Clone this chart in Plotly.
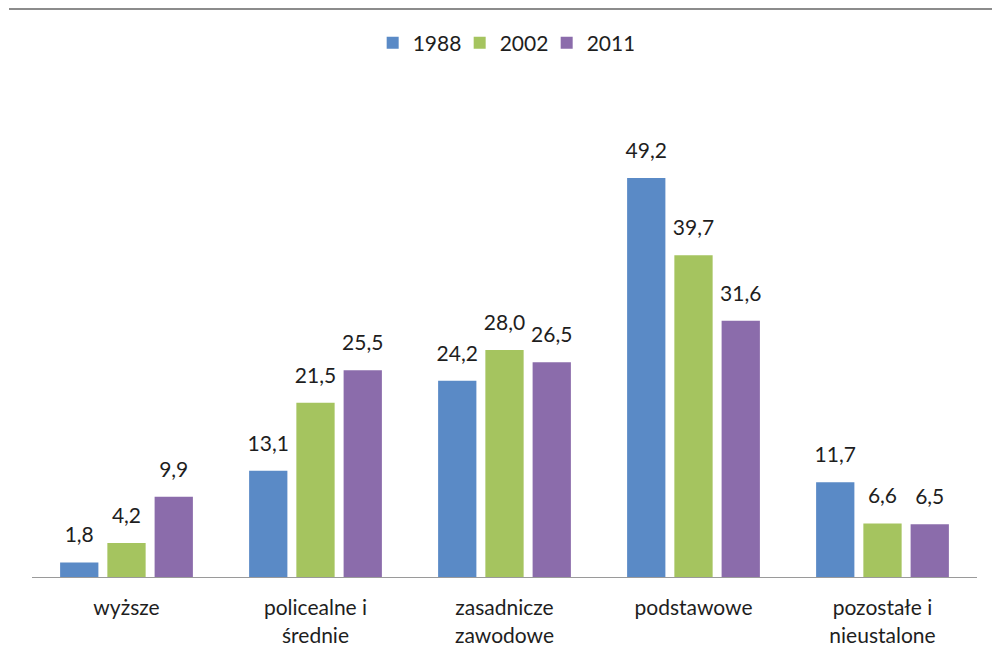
import plotly.graph_objects as go

categories = ["wyższe", "policealne i<br>średnie", "zasadnicze<br>zawodowe", "podstawowe", "pozostałe i<br>nieustalone"]
series_names = ["1988", "2002", "2011"]
values_1988 = [1.8, 13.1, 24.2, 49.2, 11.7]
values_2002 = [4.2, 21.5, 28.0, 39.7, 6.6]
values_2011 = [9.9, 25.5, 26.5, 31.6, 6.5]
colors = ["#5A8AC6", "#A5C45F", "#8B6CAB"]

FONT = "Lato, Open Sans, sans-serif"
TXT = "#1e1e1e"
fig = go.Figure()
for i, (name, vals, col) in enumerate(zip(series_names, [values_1988, values_2002, values_2011], colors)):
    fig.add_trace(go.Bar(
        name=name, x=categories, y=vals, offsetgroup=str(i),
        marker=dict(color=col, line=dict(width=0)),
    ))
for i, vals in enumerate([values_1988, values_2002, values_2011]):
    fig.add_trace(go.Scatter(
        x=categories, y=vals, offsetgroup=str(i), mode="markers+text",
        marker=dict(size=22, opacity=0), texttemplate="%{y:.1f}", textposition="top center",
        textfont=dict(family=FONT, size=21, color=TXT), showlegend=False, hoverinfo="skip",
        cliponaxis=False,
    ))

W, H = 945, 497
L, T, B = 24, 72, 92
fig.update_layout(
    width=1000, height=661,
    margin=dict(l=L, r=31, t=T, b=B),
    paper_bgcolor="white", plot_bgcolor="white",
    barmode="group", bargap=0.25, bargroupgap=0.19,
    scattermode="group", scattergap=0.25,
    separators=", ",
    font=dict(family=FONT, size=21, color=TXT),
    showlegend=True,
    legend=dict(orientation="h", x=0.4986, xanchor="center", y=1.0744, yanchor="middle",
                font=dict(family=FONT, size=21, color=TXT), traceorder="normal",
                itemwidth=30, tracegroupgap=0, entrywidth=42, entrywidthmode="pixels"),
    xaxis=dict(showline=True, linecolor="#9a9a9a", linewidth=1, ticks="", showgrid=False,
               tickfont=dict(family=FONT, size=21, color=TXT), ticklabelstandoff=12),
    yaxis=dict(visible=False, range=[0, 61.3]),
    shapes=[
        dict(type="line", xref="paper", yref="paper",
             x0=(1 - L) / W, x1=(999 - L) / W, y0=1 + (T - 1) / H, y1=1 + (T - 1) / H,
             line=dict(color="#8c8c8c", width=2), layer="below"),
    ],
)
fig.write_html("out.html")
